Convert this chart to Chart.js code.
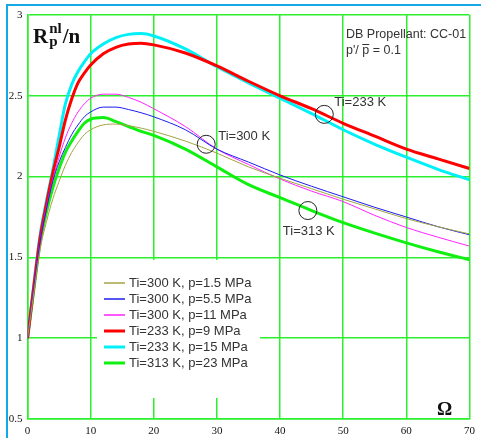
<!DOCTYPE html>
<html>
<head>
<meta charset="utf-8">
<title>Rp nl / n vs Omega</title>
<script src="https://cdn.jsdelivr.net/npm/chart.js@4/dist/chart.umd.min.js"></script>
<style>
  html, body { margin: 0; padding: 0; background: #fff; }
  #wrap { position: relative; width: 481px; height: 438px; overflow: hidden; }
  #frame { position: absolute; left: 6px; top: 4px; right: -4px; bottom: -4px;
           border-left: 2px solid #12a9e6; border-top: 2px solid #12a9e6; pointer-events: none; }
  canvas { position: absolute; left: 0; top: 0; }
</style>
</head>
<body>
<div id="wrap">
  <canvas id="chart" width="481" height="438"></canvas>
  <div id="frame"></div>
</div>
<script>
(function () {
  'use strict';

  // ── Data ─────────────────────────────────────────────────────
  var OMEGA = [0, 1, 2, 3, 4, 5, 6, 7, 8, 9, 10, 12, 14, 16, 18, 20, 25, 30, 35, 40, 45, 50, 55, 60, 65, 70];

  var T300_P1_5 = [1.0, 1.28, 1.55, 1.72, 1.86, 1.97, 2.07, 2.15, 2.21, 2.26, 2.29, 2.32, 2.325, 2.315, 2.30, 2.28, 2.22, 2.145, 2.06, 1.99, 1.925, 1.86, 1.80, 1.74, 1.69, 1.645];
  var T300_P5_5 = [1.0, 1.31, 1.60, 1.80, 1.97, 2.09, 2.18, 2.26, 2.32, 2.37, 2.40, 2.43, 2.43, 2.415, 2.395, 2.37, 2.29, 2.17, 2.09, 2.01, 1.94, 1.875, 1.81, 1.75, 1.69, 1.64];
  var T300_P11  = [1.0, 1.31, 1.60, 1.81, 1.98, 2.12, 2.24, 2.33, 2.40, 2.45, 2.485, 2.51, 2.51, 2.49, 2.46, 2.42, 2.31, 2.17, 2.075, 1.985, 1.91, 1.845, 1.76, 1.685, 1.625, 1.57];
  var T233_P9   = [1.0, 1.32, 1.62, 1.83, 2.02, 2.18, 2.35, 2.48, 2.58, 2.64, 2.69, 2.76, 2.80, 2.82, 2.825, 2.815, 2.765, 2.685, 2.59, 2.50, 2.42, 2.33, 2.25, 2.17, 2.11, 2.05];
  var T233_P15  = [1.0, 1.33, 1.64, 1.85, 2.04, 2.25, 2.45, 2.57, 2.65, 2.71, 2.76, 2.82, 2.86, 2.88, 2.885, 2.87, 2.79, 2.68, 2.58, 2.485, 2.39, 2.29, 2.20, 2.12, 2.045, 1.98];
  var T313_P23  = [1.0, 1.30, 1.59, 1.78, 1.93, 2.05, 2.15, 2.22, 2.28, 2.33, 2.355, 2.365, 2.34, 2.31, 2.28, 2.255, 2.17, 2.06, 1.95, 1.87, 1.79, 1.715, 1.65, 1.59, 1.535, 1.485];

  var LABELS = [
    'Ti=300 K, p=1.5 MPa', 'Ti=300 K, p=5.5 MPa', 'Ti=300 K, p=11 MPa',
    'Ti=233 K, p=9 MPa',   'Ti=233 K, p=15 MPa',  'Ti=313 K, p=23 MPa'
  ];
  var SERIES = [T300_P1_5, T300_P5_5, T300_P11, T233_P9, T233_P15, T313_P23];
  var COLORS = ['#a3a345', '#1c1cf0', '#ff22ff', '#ff0000', '#00f0f8', '#10f010'];
  var WIDTHS = [1, 1, 1, 3, 3, 3];

  // circled points with their captions: [omega, value, caption, dx, dy]
  var MARKS = [
    [47.0, 2.385, 'Ti=233 K', 10, -12],
    [28.3, 2.20,  'Ti=300 K', 12, -8],
    [44.4, 1.79,  'Ti=313 K', -25, 21]
  ];

  var GRID = '#2cf02c';
  var TEXT = '#333';

  function pts(arr) {
    return OMEGA.map(function (x, i) { return { x: x, y: arr[i] }; });
  }

  var datasets = SERIES.map(function (s, i) {
    return {
      label: LABELS[i],
      data: pts(s),
      borderColor: COLORS[i],
      backgroundColor: COLORS[i],
      borderWidth: WIDTHS[i],
      pointRadius: 0,
      cubicInterpolationMode: 'monotone',
      fill: false,
      // thick lines first, thin ones over them
      order: WIDTHS[i] === 1 ? 0 : 1
    };
  });

  // ── Extra drawing: legend box, axis titles, notes ───────────
  var decor = {
    id: 'decor',
    beforeDatasetsDraw: function (chart) {
      var ctx = chart.ctx;
      ctx.save();
      ctx.fillStyle = '#fff';
      ctx.fillRect(97, 260, 163, 138);
      ctx.restore();
    },
    afterDatasetsDraw: function (chart) {
      var ctx = chart.ctx, xs = chart.scales.x, ys = chart.scales.y;
      ctx.save();

      // legend
      ctx.font = '13px "Liberation Sans", Arial, sans-serif';
      ctx.textBaseline = 'middle';
      LABELS.forEach(function (lab, i) {
        var y = 283 + i * 16;
        ctx.strokeStyle = COLORS[i];
        ctx.lineWidth = WIDTHS[i] === 1 ? 1.5 : 3;
        ctx.beginPath(); ctx.moveTo(104, y); ctx.lineTo(125, y); ctx.stroke();
        ctx.fillStyle = TEXT;
        ctx.fillText(lab, 129, y);
      });

      // circled points
      MARKS.forEach(function (m) {
        var px = xs.getPixelForValue(m[0]), py = ys.getPixelForValue(m[1]);
        ctx.strokeStyle = '#222';
        ctx.lineWidth = 1;
        ctx.beginPath(); ctx.arc(px, py, 9, 0, Math.PI * 2); ctx.stroke();
        ctx.fillStyle = TEXT;
        ctx.fillText(m[2], px + m[3], py + m[4]);
      });

      // note in the top right corner
      ctx.fillStyle = TEXT;
      ctx.font = '12.5px "Liberation Sans", Arial, sans-serif';
      ctx.fillText('DB Propellant: CC-01', 346, 35);
      var x0 = 346;
      ctx.fillText("p'/ ", x0, 51);
      var w1 = ctx.measureText("p'/ ").width;
      ctx.fillText('p', x0 + w1, 51);
      var wp = ctx.measureText('p').width;
      ctx.strokeStyle = TEXT; ctx.lineWidth = 1;
      ctx.beginPath(); ctx.moveTo(x0 + w1, 44.5); ctx.lineTo(x0 + w1 + wp, 44.5); ctx.stroke();
      ctx.fillText(' = 0.1', x0 + w1 + wp, 51);

      // y title R_p^nl / n
      ctx.fillStyle = '#111';
      ctx.textBaseline = 'alphabetic';
      ctx.font = 'bold 21px "Liberation Serif", "Times New Roman", serif';
      ctx.fillText('R', 33, 43);
      var rx = 33 + ctx.measureText('R').width + 1;
      ctx.font = 'bold 15px "Liberation Serif", "Times New Roman", serif';
      ctx.fillText('nl', rx, 33);
      ctx.fillText('p', rx, 46);
      var nx = rx + ctx.measureText('nl').width + 1;
      ctx.font = 'bold 21px "Liberation Serif", "Times New Roman", serif';
      ctx.fillText('/n', nx, 43);

      // x title
      ctx.font = 'bold 19px "Liberation Serif", "Times New Roman", serif';
      ctx.fillText('\u03A9', 437, 415);

      ctx.restore();
    }
  };

  var ctx = document.getElementById('chart').getContext('2d');
  new Chart(ctx, {
    type: 'line',
    data: { datasets: datasets },
    options: {
      responsive: false,
      animation: false,
      layout: { padding: { top: 15, right: 11, left: 0, bottom: 0 } },
      plugins: { legend: { display: false }, tooltip: { enabled: false } },
      scales: {
        x: {
          type: 'linear', min: 0, max: 70,
          afterFit: function (s) { s.height = 19; },
          ticks: { stepSize: 10, padding: 6, color: '#111',
                   font: { family: '"Liberation Serif", serif', size: 11 } },
          grid: { color: GRID, lineWidth: 1.5, drawTicks: false },
          border: { color: GRID, width: 1.5 }
        },
        y: {
          min: 0.5, max: 3,
          afterFit: function (s) { s.width = 27.5; },
          ticks: { stepSize: 0.5, padding: 5, color: '#111',
                   font: { family: '"Liberation Serif", serif', size: 11 },
                   callback: function (v) { return String(v); } },
          grid: { color: GRID, lineWidth: 1.5, drawTicks: false },
          border: { color: GRID, width: 1.5 }
        }
      }
    },
    plugins: [decor]
  });
})();
</script>
</body>
</html>
